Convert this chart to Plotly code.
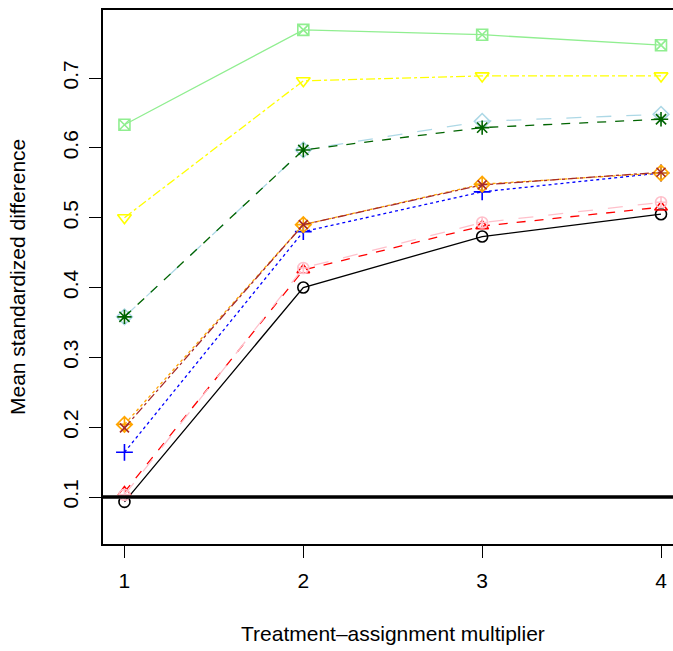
import plotly.graph_objects as go

multipliers = [1, 2, 3, 4]
y_ticks = [0.1, 0.2, 0.3, 0.4, 0.5, 0.6, 0.7]

s_black = [0.093, 0.400, 0.473, 0.505]
s_red = [0.107, 0.425, 0.488, 0.515]
s_blue = [0.164, 0.480, 0.537, 0.564]
s_orange = [0.204, 0.490, 0.548, 0.564]
s_brown = [0.199, 0.490, 0.547, 0.565]
s_pink = [0.103, 0.428, 0.493, 0.522]
s_lightblue = [0.358, 0.597, 0.638, 0.648]
s_darkgreen = [0.358, 0.597, 0.629, 0.641]
s_yellow = [0.500, 0.696, 0.703, 0.703]
s_lightgreen = [0.633, 0.769, 0.762, 0.747]

series = [
    (s_black, "black", "solid", "circle-open", 11),
    (s_red, "red", "dash", "triangle-up-open", 11),
    (s_blue, "blue", "dot", "cross-thin-open", 12),
    (s_orange, "orange", "dot", "diamond-cross-open", 12),
    (s_brown, "#A52A2A", "dashdot", "x-thin-open", 9),
    (s_pink, "pink", "longdash", "circle-cross-open", 11),
    (s_lightblue, "lightblue", "longdash", "diamond-open", 12),
    (s_darkgreen, "darkgreen", "dash", "asterisk-open", 12),
    (s_yellow, "yellow", "dashdot", "triangle-down-open", 12),
    (s_lightgreen, "lightgreen", "solid", "square-x-open", 11),
]

fig = go.Figure()
for vals, col, dash, sym, sz in series:
    fig.add_trace(go.Scatter(
        x=multipliers, y=vals, mode="lines+markers",
        line=dict(color=col, width=1.3, dash=dash),
        marker=dict(symbol=sym, size=sz, color=col, line=dict(color=col, width=1.6)),
        showlegend=False, cliponaxis=False,
    ))

fig.add_shape(type="line", xref="paper", yref="y", x0=0, x1=1, y0=0.1, y1=0.1,
              line=dict(color="black", width=3.5))

font = dict(family="Liberation Sans, Arial, sans-serif", size=21, color="black")

fig.add_annotation(text="Treatment\u2013assignment multiplier", xref="paper", yref="paper",
                   x=0.508, y=0, xanchor="center", yanchor="middle", yshift=-89,
                   showarrow=False, font=font)
fig.add_annotation(text="Mean standardized difference", xref="paper", yref="paper",
                   x=0, y=0.5, xanchor="center", yanchor="middle", xshift=-86, textangle=-90,
                   showarrow=False, font=font)

fig.update_layout(
    width=673, height=651,
    margin=dict(l=103, r=0, t=10, b=107),
    plot_bgcolor="white", paper_bgcolor="white",
    font=font,
    xaxis=dict(range=[0.88, 4.067], tickvals=multipliers, ticktext=[str(m) for m in multipliers],
               showgrid=False, zeroline=False, showline=True, linecolor="black", linewidth=1.5,
               mirror=True, ticks="outside", ticklen=12, tickwidth=1.3, tickcolor="black",
               ticklabelstandoff=5),
    yaxis=dict(range=[0.0327, 0.7974], tickvals=y_ticks, ticktext=[str(v) for v in y_ticks],
               showgrid=False, zeroline=False, showline=True, linecolor="black", linewidth=1.5,
               ticks="outside", ticklen=12, tickwidth=1.3, tickcolor="black", tickangle=-90,
               ticklabelstandoff=3),
)

fig.write_html("out.html")
